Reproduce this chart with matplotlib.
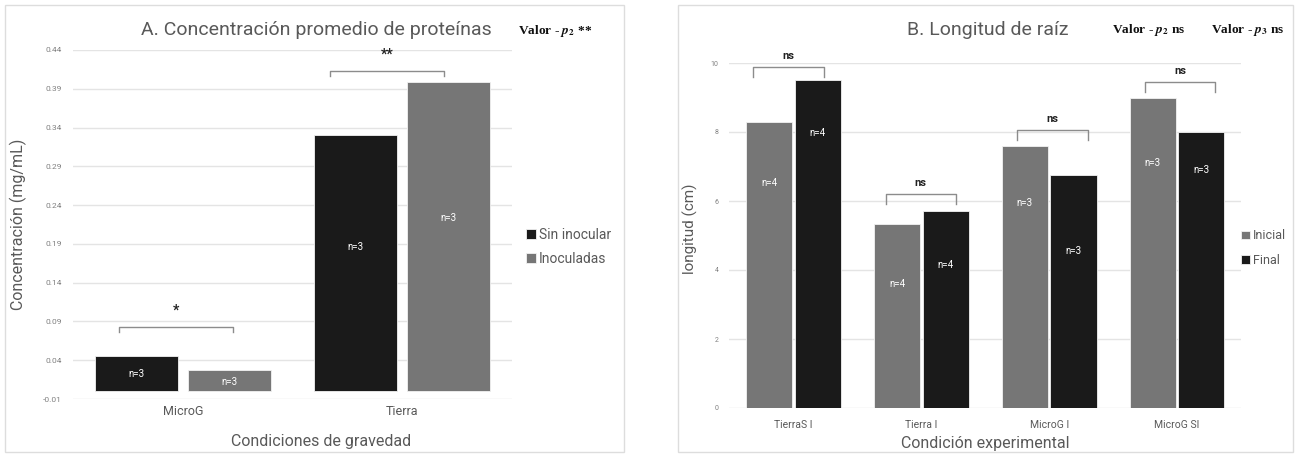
import matplotlib
matplotlib.use("Agg")
import matplotlib.pyplot as plt
from matplotlib.patches import Rectangle
import numpy as np

plt.rcParams['font.family'] = ['Roboto', 'DejaVu Sans']

# --- Panel A data ---
a_groups = ['MicroG', 'Tierra']
a_sin = [0.046, 0.331]
a_ino = [0.027, 0.399]
a_n_sin = ['n=3', 'n=3']
a_n_ino = ['n=3', 'n=3']
a_n_sin_y = [0.022, 0.186]
a_n_ino_y = [0.0115, 0.223]
a_sig = ['*', '**']
a_brk_y = [0.083, 0.413]
a_brk_x = [(-0.29, 0.23), (-0.33, 0.19)]
a_yticks = [-0.01, 0.04, 0.09, 0.14, 0.19, 0.24, 0.29, 0.34, 0.39, 0.44]

# --- Panel B data ---
b_groups = ['TierraS I', 'Tierra I', 'MicroG I', 'MicroG SI']
b_ini = [8.3, 5.33, 7.6, 8.98]
b_fin = [9.5, 5.71, 6.75, 8.0]
b_n_ini = ['n=4', 'n=4', 'n=3', 'n=3']
b_n_fin = ['n=4', 'n=4', 'n=3', 'n=3']
b_n_ini_y = [6.52, 3.59, 5.94, 7.1]
b_n_fin_y = [7.97, 4.14, 4.55, 6.9]
b_sig = ['ns', 'ns', 'ns', 'ns']
b_brk_y = [9.88, 6.2, 8.06, 9.45]
b_brk_x = [(-0.32, 0.24), (-0.28, 0.27), (-0.25, 0.30), (-0.25, 0.30)]
b_yticks = [0, 2, 4, 6, 8, 10]

BLACK = '#1a1a1a'
GREY = '#767676'
TXT = '#595959'
GRID = '#e4e4e4'

W, H = 1299, 454
fig = plt.figure(figsize=(W / 100, H / 100), dpi=100)


def px_axes(x0, x1, ytop, ybot):
    return fig.add_axes([x0 / W, 1 - ybot / H, (x1 - x0) / W, (ybot - ytop) / H])


def pval(xp, yp, s):
    fig.text(xp / W, 1 - yp / H, s, fontsize=9.6, fontfamily='Liberation Serif',
             fontweight='bold', math_fontfamily='stix', ha='left', va='center',
             color='#111111')


# panel frames
for x0, x1 in [(5, 624), (678, 1293)]:
    fig.add_artist(Rectangle((x0 / W, 1 - 452 / H), (x1 - x0) / W, 447 / H,
                             transform=fig.transFigure, fill=False,
                             edgecolor='#dddddd', linewidth=1.0))


def style(ax):
    for s in ax.spines.values():
        s.set_visible(False)
    ax.tick_params(length=0)
    ax.grid(axis='y', color=GRID, linewidth=1.0)
    ax.set_axisbelow(True)


# ---------------- Panel A ----------------
ax1 = px_axes(73, 512, 50, 399)
x = np.arange(len(a_groups))
bw, off = 0.38, 0.212
ax1.bar(x - off, a_sin, bw, color=BLACK, edgecolor='#f2f2f2', linewidth=0.6, label='Sin inocular')
ax1.bar(x + off, a_ino, bw, color=GREY, edgecolor='#f2f2f2', linewidth=0.6, label='Inoculadas')
ax1.set_xlim(-0.5, 1.5)
ax1.set_ylim(-0.01, 0.44)
ax1.set_yticks(a_yticks)
ax1.set_yticklabels([f'{v:.2f}' for v in a_yticks], fontsize=6, color='#808080')
ax1.set_xticks(x)
ax1.set_xticklabels(a_groups, fontsize=9, color=TXT)
ax1.tick_params(axis='x', pad=4)
ax1.tick_params(axis='y', pad=8)
style(ax1)
for i in range(len(a_groups)):
    ax1.text(x[i] - off, a_n_sin_y[i], a_n_sin[i], color='white', fontsize=7, ha='center', va='center')
    ax1.text(x[i] + off, a_n_ino_y[i], a_n_ino[i], color='white', fontsize=7, ha='center', va='center')
    x0, x1 = a_brk_x[i]
    y = a_brk_y[i]
    ax1.plot([x[i] + x0, x[i] + x0, x[i] + x1, x[i] + x1], [y - 0.007, y, y, y - 0.007],
             color='#8c8c8c', linewidth=1.0, clip_on=False)
    ax1.text(x[i] + (x0 + x1) / 2, y + 0.012, a_sig[i], fontsize=10, fontweight='bold',
             ha='center', va='bottom', color='#222222')
ax1.set_ylabel('Concentración (mg/mL)', fontsize=11.5, color=TXT)
ax1.yaxis.set_label_coords(-0.105, 0.5)
ax1.set_xlabel('Condiciones de gravedad', fontsize=11.5, color=TXT, va='center')
ax1.xaxis.set_label_coords(0.565, -0.123)
fig.text(316 / W, 1 - 30 / H, 'A. Concentración promedio de proteínas', fontsize=14,
         color=TXT, ha='center', va='center')
pval(518, 31, r'Valor - $\mathbfit{p}_{\mathbf{2}}$ **')
fig.legend(*ax1.get_legend_handles_labels(), loc='center left',
           bbox_to_anchor=(526 / W, 1 - 247 / H), frameon=False, fontsize=10,
           handlelength=0.7, handleheight=0.7, handletextpad=0.25, labelspacing=0.75,
           borderpad=0, borderaxespad=0, labelcolor=TXT)

# ---------------- Panel B ----------------
ax2 = px_axes(729.5, 1241, 63, 408)
x = np.arange(len(b_groups))
bw, off = 0.36, 0.19
ax2.bar(x - off, b_ini, bw, color=GREY, edgecolor='#f2f2f2', linewidth=0.6, label='Inicial')
ax2.bar(x + off, b_fin, bw, color=BLACK, edgecolor='#f2f2f2', linewidth=0.6, label='Final')
ax2.set_xlim(-0.5, 3.5)
ax2.set_ylim(0, 10)
ax2.set_yticks(b_yticks)
ax2.set_yticklabels([str(v) for v in b_yticks], fontsize=5, color='#808080')
ax2.set_xticks(x)
ax2.set_xticklabels(b_groups, fontsize=7.5, color=TXT)
ax2.tick_params(axis='x', pad=9)
ax2.tick_params(axis='y', pad=8)
style(ax2)
for i in range(len(b_groups)):
    ax2.text(x[i] - off, b_n_ini_y[i], b_n_ini[i], color='white', fontsize=7, ha='center', va='center')
    ax2.text(x[i] + off, b_n_fin_y[i], b_n_fin[i], color='white', fontsize=7, ha='center', va='center')
    x0, x1 = b_brk_x[i]
    y = b_brk_y[i]
    ax2.plot([x[i] + x0, x[i] + x0, x[i] + x1, x[i] + x1], [y - 0.3, y, y, y - 0.3],
             color='#8c8c8c', linewidth=1.0, clip_on=False)
    ax2.text(x[i] + (x0 + x1) / 2, y + 0.18, b_sig[i], fontsize=8, fontweight='bold',
             ha='center', va='bottom', color='#222222')
ax2.set_ylabel('longitud (cm)', fontsize=11, color=TXT)
ax2.yaxis.set_label_coords(-0.062, 0.52)
ax2.set_xlabel('Condición experimental', fontsize=11.5, color=TXT, va='center')
ax2.xaxis.set_label_coords(0.5, -0.104)
fig.text(988 / W, 1 - 30 / H, 'B. Longitud de raíz', fontsize=14,
         color=TXT, ha='center', va='center')
pval(1112, 30, r'Valor - $\mathbfit{p}_{\mathbf{2}}$ ns')
pval(1211, 30, r'Valor - $\mathbfit{p}_{\mathbf{3}}$ ns')
fig.legend(*ax2.get_legend_handles_labels(), loc='center left',
           bbox_to_anchor=(1241 / W, 1 - 248 / H), frameon=False, fontsize=9,
           handlelength=0.7, handleheight=0.7, handletextpad=0.25, labelspacing=0.9,
           borderpad=0, borderaxespad=0, labelcolor=TXT)

fig.savefig('out.png', dpi=100)
